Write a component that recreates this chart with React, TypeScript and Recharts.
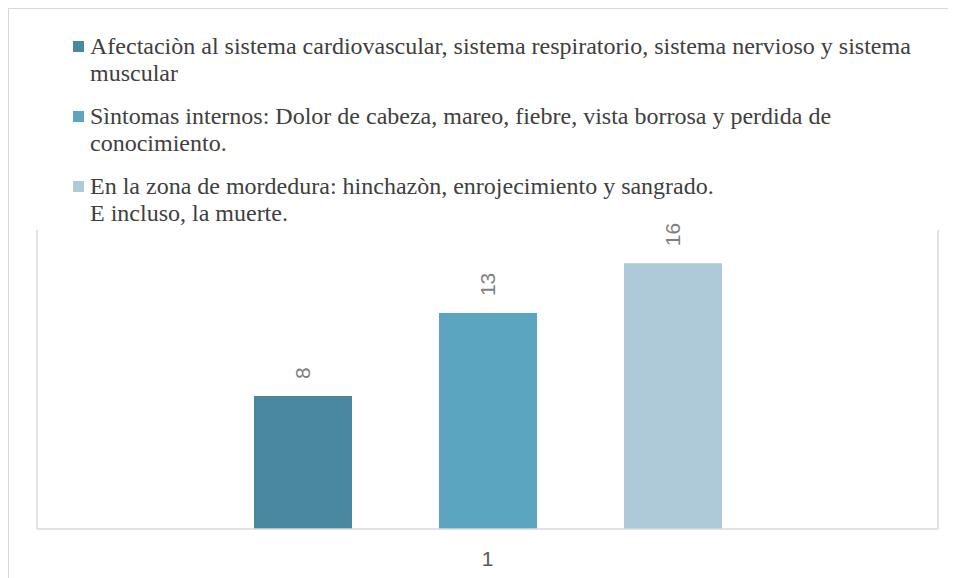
import React from "react";
import { BarChart, Bar, XAxis, YAxis, Legend, LabelList } from "recharts";

const categories = ["1"];
const seriesNames = [
  "Afectaciòn al sistema cardiovascular, sistema respiratorio, sistema nervioso y sistema muscular",
  "Sìntomas internos: Dolor de cabeza, mareo, fiebre, vista borrosa y perdida de conocimiento.",
  "En la zona de mordedura: hinchazòn, enrojecimiento y sangrado.\nE incluso, la muerte.",
];
const seriesValues = [8, 13, 16];
const colors = ["#4a88a0", "#5ba5c0", "#aecad8"];

const data = categories.map((c) => {
  const row: Record<string, any> = { name: c };
  seriesValues.forEach((v, i) => {
    row["s" + i] = v;
  });
  return row;
});

const renderLegend = () => (
  <div style={{ fontFamily: "'Liberation Serif', serif", fontSize: 24, color: "#404040" }}>
    {seriesNames.map((n, i) => (
      <div key={i} style={{ display: "flex", marginBottom: 16, lineHeight: "27px" }}>
        <span
          style={{
            width: 11,
            height: 11,
            background: colors[i],
            marginTop: 8,
            marginRight: 6,
            flexShrink: 0,
          }}
        />
        <span style={{ whiteSpace: "pre-line" }}>{n}</span>
      </div>
    ))}
  </div>
);

const renderValue = (props: any) => {
  const { x, y, width, value } = props;
  const cx = x + width / 2;
  const ty = y - 17;
  return (
    <text
      x={cx}
      y={ty}
      transform={`rotate(-90 ${cx} ${ty})`}
      textAnchor="start"
      dominantBaseline="central"
      fill="#7f7f7f"
      fontSize={21}
      fontFamily="'Liberation Sans', Arial, sans-serif"
    >
      {value}
    </text>
  );
};

const renderTick = (props: any) => {
  const { x, y, payload } = props;
  return (
    <text
      x={x}
      y={y + 27}
      textAnchor="middle"
      dominantBaseline="central"
      fill="#595959"
      fontSize={21}
      fontFamily="'Liberation Sans', Arial, sans-serif"
    >
      {payload.value}
    </text>
  );
};

export default function App() {
  return (
    <div
      style={{
        width: 960,
        height: 580,
        borderLeft: "1px solid #d9d9d9",
        borderTop: "1px solid #d9d9d9",
      }}
    >
      <BarChart
        width={947}
        height={569}
        data={data}
        margin={{ top: 221, right: 17, bottom: 19, left: 27 }}
        barSize={98}
        barGap={87}
      >
        <XAxis
          dataKey="name"
          axisLine={{ stroke: "#d9d9d9", strokeWidth: 1.5 }}
          tickLine={false}
          tickSize={0}
          tick={renderTick}
          height={30}
        />
        <YAxis
          yAxisId="left"
          domain={[0, 18]}
          width={1}
          tick={false}
          tickLine={false}
          axisLine={{ stroke: "#d9d9d9", strokeWidth: 1.5 }}
        />
        <YAxis
          yAxisId="right"
          orientation="right"
          domain={[0, 18]}
          width={1}
          tick={false}
          tickLine={false}
          axisLine={{ stroke: "#d9d9d9", strokeWidth: 1.5 }}
        />
        <Legend
          layout="vertical"
          verticalAlign="middle"
          align="center"
          content={renderLegend}
          wrapperStyle={{ top: 24, left: 64, width: 860 }}
        />
        {seriesValues.map((_, i) => (
          <Bar
            key={i}
            dataKey={"s" + i}
            yAxisId="left"
            fill={colors[i]}
            isAnimationActive={false}
          >
            <LabelList dataKey={"s" + i} content={renderValue} />
          </Bar>
        ))}
      </BarChart>
    </div>
  );
}
